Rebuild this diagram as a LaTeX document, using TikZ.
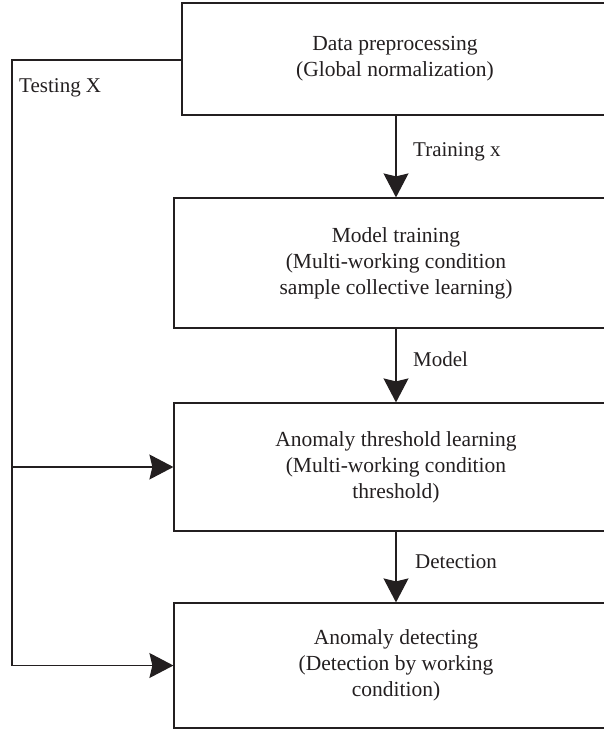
\documentclass[tikz,border=0pt]{standalone}
\usepackage{fontspec}
\setmainfont{Liberation Serif}
\usetikzlibrary{arrows.meta}
\definecolor{flowblack}{RGB}{35,31,32}

\begin{document}
\begin{tikzpicture}[x=1pt, y=-1pt,
  stagebox/.style={draw=flowblack, line width=1.2pt, align=center, inner sep=0pt, text=flowblack, font=\fontsize{21.5}{26}\selectfont},
  flowlabel/.style={anchor=west, inner sep=0pt, text=flowblack, font=\fontsize{21}{26}\selectfont},
  flowarrow/.style={draw=flowblack, line width=1.2pt, -{Stealth[length=24pt,width=25pt,inset=3pt]}}]
\useasboundingbox (0,0) rectangle (604,729);
\clip (0,0) rectangle (604,729);

% Data preprocessing
\node[stagebox, minimum width=426pt, minimum height=112pt] (prep) at (395,59) {Data preprocessing\\(Global normalization)};

% Model training
\node[stagebox, minimum width=444pt, minimum height=130pt] (train) at (396,263) {Model training\\(Multi-working condition\\sample collective learning)};

% Anomaly threshold learning
\node[stagebox, minimum width=444pt, minimum height=128pt] (thresh) at (396,467) {Anomaly threshold learning\\(Multi-working condition\\threshold)};

% Anomaly detecting
\node[stagebox, minimum width=444pt, minimum height=125pt] (detect) at (396,665.5) {Anomaly detecting\\(Detection by working\\condition)};

% Arrows down the stages
\draw[flowarrow] (prep.south -| train.north) -- (train.north);
\node[flowlabel] (trainlbl) at (413,152) {Training x};
\draw[flowarrow] (train.south) -- (thresh.north);
\node[flowlabel] (modellbl) at (413,359) {Model};
\draw[flowarrow] (thresh.south) -- (detect.north);
\node[flowlabel] (detectlbl) at (415,562) {Detection};

% Testing branch on the left
\coordinate (testleft) at (12,60);
\coordinate (branch) at (testleft |- thresh.west);
\node[flowlabel] (testlbl) at (19,88) {Testing X};
\draw[flowarrow] (prep.west |- testleft) -- (testleft) |- (detect.west);
\draw[flowarrow] (branch) -- (thresh.west);
\end{tikzpicture}
\end{document}
